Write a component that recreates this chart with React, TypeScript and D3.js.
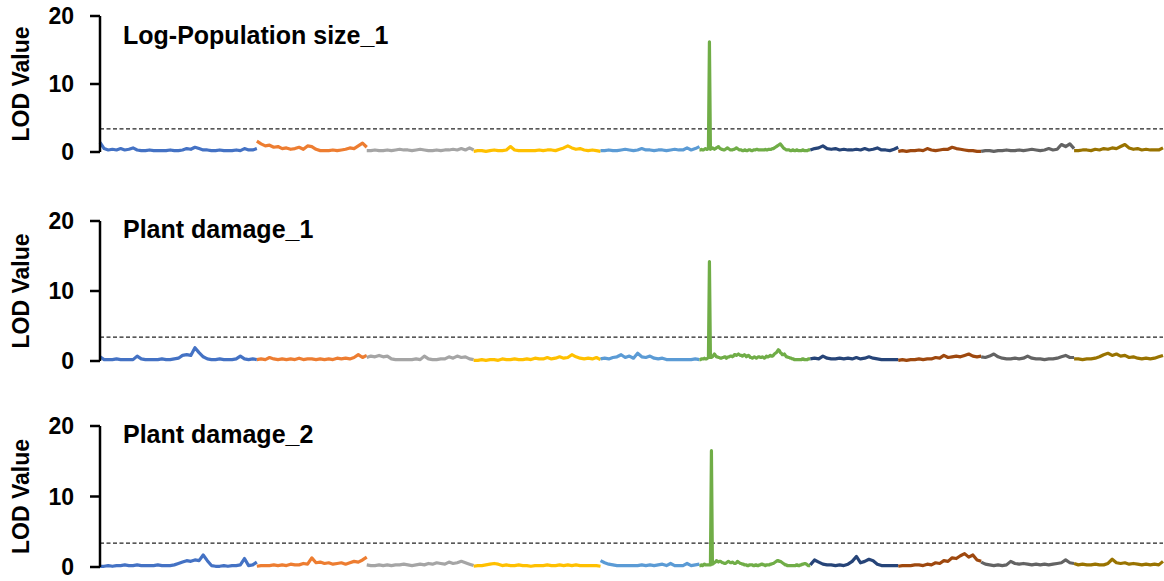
import * as d3 from "d3";

// chromosome layout (map units) and colours, Excel-style palette
const chromosomes = ["1", "2", "3", "4", "5", "6", "7", "8", "9", "10"];
const chrLengths = [157, 110, 107, 127, 99, 111, 88, 83, 93, 89];
const chrColors = [
  "#4472C4",
  "#ED7D31",
  "#A5A5A5",
  "#FFC000",
  "#5B9BD5",
  "#70AD47",
  "#264478",
  "#9E480E",
  "#636363",
  "#997300",
];

const traits = ["Log-Population size_1", "Plant damage_1", "Plant damage_2"];
const lodThreshold = 3.4;
const yTicks = [0, 10, 20];

// LOD profiles, one list per chromosome, evenly spaced along it
// (chromosome 6 is scanned at a finer step around the QTL)
const logPopSize1: number[][] = [
  [1.4, 0.5, 0.3, 0.4, 0.3, 0.5, 0.3, 0.4, 0.6, 0.3, 0.2, 0.2, 0.3, 0.2, 0.2, 0.2, 0.2, 0.3, 0.2, 0.2, 0.3, 0.5, 0.4, 0.7, 0.5, 0.3, 0.3, 0.2, 0.2, 0.3, 0.2, 0.2, 0.2, 0.3, 0.2, 0.5, 0.3, 0.3, 0.5],
  [1.6, 1.2, 0.9, 1.0, 0.7, 0.8, 0.5, 0.6, 0.4, 0.5, 0.7, 0.4, 0.9, 0.8, 0.4, 0.2, 0.2, 0.2, 0.3, 0.2, 0.3, 0.4, 0.6, 0.5, 0.9, 1.3, 0.7],
  [0.2, 0.2, 0.3, 0.2, 0.2, 0.3, 0.2, 0.3, 0.4, 0.3, 0.3, 0.2, 0.3, 0.4, 0.3, 0.2, 0.2, 0.3, 0.2, 0.3, 0.3, 0.4, 0.3, 0.5, 0.3, 0.6, 0.3],
  [0.1, 0.2, 0.2, 0.1, 0.2, 0.3, 0.2, 0.2, 0.3, 0.8, 0.3, 0.2, 0.2, 0.2, 0.2, 0.2, 0.3, 0.2, 0.3, 0.3, 0.2, 0.4, 0.6, 0.9, 0.6, 0.4, 0.5, 0.3, 0.2, 0.3, 0.2, 0.1],
  [0.2, 0.2, 0.3, 0.2, 0.2, 0.3, 0.4, 0.3, 0.2, 0.3, 0.5, 0.3, 0.3, 0.2, 0.3, 0.3, 0.2, 0.3, 0.4, 0.3, 0.3, 0.6, 0.3, 0.5, 0.8],
  [
    0.3, 0.3, 0.4, 0.3, 0.3, 0.4, 0.5, 0.4, 0.4, 0.5,
    16.2,
    0.4, 0.5, 0.6, 0.5, 0.4, 0.5, 0.6, 0.7, 0.8, 0.6,
    0.5, 0.4, 0.4, 0.3, 0.3, 0.4, 0.5, 0.6, 0.5, 0.4,
    0.3, 0.3, 0.3, 0.4, 0.4, 0.5, 0.6, 0.5, 0.4, 0.3,
    0.3, 0.3, 0.2, 0.2, 0.3, 0.3, 0.2, 0.2, 0.3, 0.3,
    0.3, 0.2, 0.2, 0.3, 0.3, 0.3, 0.4, 0.4, 0.3, 0.3,
    0.3, 0.3, 0.3, 0.3, 0.3, 0.4, 0.3, 0.3, 0.4, 0.4,
    0.4, 0.4, 0.5, 0.5, 0.6, 0.7, 0.8, 0.9, 1.0, 1.1,
    1.2, 1.0, 0.8, 0.6, 0.5, 0.4, 0.3, 0.3, 0.3, 0.3,
    0.2, 0.2, 0.3, 0.3, 0.2, 0.2, 0.3, 0.3, 0.2, 0.2,
    0.2, 0.2, 0.3, 0.3, 0.2, 0.2, 0.2, 0.2, 0.3, 0.3,
    0.3,
  ],
  [0.3, 0.5, 0.6, 0.9, 0.5, 0.4, 0.5, 0.3, 0.4, 0.3, 0.3, 0.4, 0.3, 0.5, 0.3, 0.4, 0.6, 0.3, 0.3, 0.2, 0.4, 0.7],
  [0.1, 0.2, 0.1, 0.2, 0.2, 0.3, 0.2, 0.5, 0.3, 0.2, 0.3, 0.4, 0.4, 0.7, 0.5, 0.4, 0.3, 0.2, 0.2, 0.1, 0.1],
  [0.1, 0.2, 0.2, 0.1, 0.2, 0.2, 0.3, 0.2, 0.2, 0.3, 0.2, 0.3, 0.4, 0.3, 0.2, 0.3, 0.5, 0.3, 0.4, 1.1, 0.8, 1.2, 0.5],
  [0.2, 0.2, 0.3, 0.3, 0.2, 0.4, 0.3, 0.5, 0.4, 0.6, 0.5, 0.8, 1.1, 0.6, 0.4, 0.5, 0.3, 0.4, 0.3, 0.3, 0.3, 0.6],
];

const plantDamage1: number[][] = [
  [0.6, 0.2, 0.2, 0.2, 0.3, 0.2, 0.2, 0.2, 0.2, 0.7, 0.3, 0.2, 0.2, 0.2, 0.2, 0.3, 0.2, 0.2, 0.3, 0.4, 0.8, 0.9, 0.8, 1.9, 1.2, 0.6, 0.3, 0.2, 0.2, 0.3, 0.2, 0.2, 0.2, 0.3, 0.7, 0.3, 0.2, 0.3, 0.2],
  [0.2, 0.3, 0.2, 0.5, 0.3, 0.2, 0.3, 0.2, 0.3, 0.2, 0.4, 0.2, 0.3, 0.3, 0.2, 0.3, 0.2, 0.3, 0.2, 0.4, 0.3, 0.4, 0.3, 0.5, 0.9, 0.5, 0.8],
  [0.5, 0.7, 0.6, 0.8, 0.6, 0.7, 0.3, 0.2, 0.2, 0.2, 0.2, 0.2, 0.3, 0.2, 0.7, 0.3, 0.2, 0.2, 0.3, 0.3, 0.6, 0.4, 0.7, 0.5, 0.6, 0.3, 0.2],
  [0.1, 0.1, 0.2, 0.1, 0.2, 0.2, 0.1, 0.3, 0.2, 0.2, 0.3, 0.2, 0.2, 0.3, 0.2, 0.4, 0.3, 0.3, 0.5, 0.3, 0.4, 0.6, 0.4, 0.5, 0.9, 0.6, 0.4, 0.3, 0.4, 0.3, 0.5, 0.2],
  [0.3, 0.4, 0.3, 0.5, 0.6, 0.9, 0.5, 0.7, 0.4, 1.1, 0.6, 0.5, 0.7, 0.4, 0.3, 0.4, 0.2, 0.2, 0.2, 0.2, 0.2, 0.2, 0.2, 0.3, 0.2],
  [
    0.2, 0.2, 0.3, 0.3, 0.3, 0.4, 0.3, 0.3, 0.4, 0.5,
    14.2,
    0.5, 0.5, 0.6, 0.8, 1.0, 0.8, 0.6, 0.6, 0.5, 0.5,
    0.4, 0.4, 0.5, 0.5, 0.6, 0.6, 0.4, 0.5, 0.6, 0.6,
    0.7, 0.7, 0.6, 0.7, 0.9, 0.9, 0.8, 0.9, 1.0, 0.9,
    0.8, 0.8, 0.7, 0.8, 0.9, 0.8, 0.6, 0.7, 0.8, 0.7,
    0.5, 0.5, 0.4, 0.5, 0.6, 0.5, 0.4, 0.5, 0.6, 0.6,
    0.5, 0.5, 0.6, 0.5, 0.4, 0.5, 0.7, 0.6, 0.6, 0.7,
    0.8, 0.7, 0.7, 0.8, 1.0, 1.1, 1.2, 1.4, 1.6, 1.5,
    1.2, 1.1, 0.9, 0.9, 1.0, 0.8, 0.6, 0.6, 0.5, 0.5,
    0.4, 0.4, 0.3, 0.3, 0.2, 0.2, 0.2, 0.2, 0.2, 0.2,
    0.2, 0.2, 0.3, 0.3, 0.2, 0.2, 0.2, 0.2, 0.3, 0.3,
    0.3,
  ],
  [0.3, 0.4, 0.3, 0.7, 0.4, 0.3, 0.3, 0.4, 0.3, 0.4, 0.3, 0.5, 0.3, 0.4, 0.6, 0.4, 0.3, 0.2, 0.2, 0.2, 0.2, 0.2],
  [0.1, 0.2, 0.1, 0.2, 0.2, 0.3, 0.2, 0.3, 0.3, 0.5, 0.4, 0.8, 0.5, 0.6, 0.7, 0.6, 0.8, 1.0, 0.7, 0.6, 0.7],
  [0.6, 0.5, 0.7, 1.0, 0.6, 0.4, 0.3, 0.3, 0.4, 0.3, 0.4, 0.7, 0.4, 0.3, 0.3, 0.2, 0.3, 0.3, 0.4, 0.6, 0.8, 0.5, 0.5],
  [0.3, 0.3, 0.2, 0.3, 0.3, 0.4, 0.6, 0.9, 1.1, 0.8, 1.0, 0.7, 0.8, 0.5, 0.6, 0.4, 0.3, 0.4, 0.3, 0.4, 0.6, 0.8],
];

const plantDamage2: number[][] = [
  [0.1, 0.1, 0.2, 0.1, 0.2, 0.2, 0.3, 0.2, 0.2, 0.3, 0.2, 0.2, 0.2, 0.2, 0.3, 0.2, 0.2, 0.2, 0.3, 0.5, 0.7, 0.9, 0.8, 1.0, 0.9, 1.7, 0.9, 0.2, 0.1, 0.1, 0.2, 0.1, 0.2, 0.2, 0.3, 1.2, 0.2, 0.3, 0.7],
  [0.1, 0.2, 0.2, 0.2, 0.3, 0.2, 0.3, 0.2, 0.4, 0.3, 0.3, 0.5, 0.4, 1.3, 0.6, 0.7, 0.5, 0.6, 0.4, 0.5, 0.6, 0.4, 0.6, 0.8, 0.7, 1.0, 1.4],
  [0.3, 0.2, 0.2, 0.3, 0.2, 0.3, 0.2, 0.3, 0.3, 0.4, 0.3, 0.2, 0.3, 0.4, 0.3, 0.5, 0.4, 0.6, 0.5, 0.4, 0.7, 0.5, 0.6, 0.8, 0.6, 0.4, 0.2],
  [0.1, 0.2, 0.2, 0.3, 0.4, 0.5, 0.4, 0.2, 0.3, 0.2, 0.2, 0.3, 0.2, 0.2, 0.1, 0.2, 0.2, 0.2, 0.3, 0.2, 0.2, 0.3, 0.2, 0.3, 0.2, 0.3, 0.2, 0.2, 0.2, 0.2, 0.2, 0.1],
  [0.9, 0.6, 0.4, 0.3, 0.2, 0.2, 0.2, 0.2, 0.2, 0.2, 0.3, 0.2, 0.3, 0.2, 0.3, 0.4, 0.2, 0.5, 0.2, 0.2, 0.2, 0.5, 0.2, 0.3, 0.4],
  [
    0.2, 0.2, 0.3, 0.2, 0.3, 0.4, 0.3, 0.3, 0.3, 0.3, 0.3, 0.3,
    16.5,
    0.4, 0.5, 0.6, 0.7, 0.9, 0.8, 0.7, 0.8,
    0.8, 0.7, 0.6, 0.6, 0.5, 0.5, 0.6, 0.7, 0.8, 0.7,
    0.6, 0.6, 0.7, 0.6, 0.5, 0.5, 0.6, 0.8, 0.7, 0.6,
    0.5, 0.5, 0.4, 0.4, 0.3, 0.3, 0.3, 0.2, 0.2, 0.3,
    0.3, 0.3, 0.3, 0.2, 0.2, 0.3, 0.3, 0.2, 0.2, 0.3,
    0.3, 0.4, 0.4, 0.3, 0.3, 0.2, 0.3, 0.3, 0.3, 0.3,
    0.4, 0.4, 0.5, 0.5, 0.6, 0.7, 0.8, 0.9, 0.9, 0.8,
    0.8, 0.7, 0.6, 0.5, 0.4, 0.3, 0.3, 0.2, 0.2, 0.2,
    0.2, 0.2, 0.2, 0.2, 0.2, 0.2, 0.3, 0.3, 0.2, 0.2,
    0.3, 0.3, 0.4, 0.4, 0.5, 0.5, 0.4, 0.3, 0.2, 0.2,
    0.2,
  ],
  [0.3, 1.0, 0.7, 0.4, 0.3, 0.3, 0.2, 0.3, 0.2, 0.4, 0.8, 1.5, 0.6, 0.8, 1.1, 0.9, 0.4, 0.2, 0.2, 0.2, 0.2, 0.2],
  [0.1, 0.2, 0.2, 0.2, 0.3, 0.3, 0.2, 0.4, 0.3, 0.6, 0.5, 0.9, 0.8, 1.3, 1.2, 1.6, 1.9, 1.4, 1.7, 1.0, 0.8],
  [0.7, 0.4, 0.3, 0.2, 0.3, 0.2, 0.3, 0.8, 0.5, 0.4, 0.5, 0.4, 0.3, 0.4, 0.3, 0.4, 0.3, 0.4, 0.5, 0.6, 1.0, 0.6, 0.5],
  [0.5, 0.3, 0.4, 0.3, 0.3, 0.4, 0.3, 0.3, 0.5, 1.1, 0.6, 0.5, 0.6, 0.4, 0.5, 0.4, 0.3, 0.4, 0.3, 0.4, 0.3, 0.8],
];

const traitData = [logPopSize1, plantDamage1, plantDamage2];

const width = 1164;
const height = 581;
const plotLeft = 100;
const plotRight = 1163;
const panelTops = [16, 221, 426];
const panelBottoms = [152, 361, 567];
const titleBaselines = [44, 238, 443];
const font = "'Liberation Sans', Arial, sans-serif";

type Point = { pos: number; lod: number };

const chrStarts = chrLengths.map((_, i) => d3.sum(chrLengths.slice(0, i)));
const genomeLength = d3.sum(chrLengths);

function toPoints(values: number[], chrIndex: number): Point[] {
  const start = chrStarts[chrIndex];
  const len = chrLengths[chrIndex];
  return values.map((lod, i) => ({
    pos: start + (i / (values.length - 1)) * len,
    lod,
  }));
}

function Panel({ index }: { index: number }) {
  const x = d3.scaleLinear().domain([0, genomeLength]).range([plotLeft, plotRight]);
  const y = d3
    .scaleLinear()
    .domain([0, 20])
    .range([panelBottoms[index], panelTops[index]]);
  const line = d3
    .line<Point>()
    .x((d) => x(d.pos))
    .y((d) => y(d.lod));
  const midY = (panelTops[index] + panelBottoms[index]) / 2;

  return (
    <g>
      <text
        transform={`translate(29,${midY}) rotate(-90)`}
        textAnchor="middle"
        fontFamily={font}
        fontWeight="bold"
        fontSize={23}
        fill="#000"
      >
        LOD Value
      </text>
      <text
        x={123}
        y={titleBaselines[index]}
        fontFamily={font}
        fontWeight="bold"
        fontSize={25}
        fill="#000"
      >
        {traits[index]}
      </text>

      <line
        x1={plotLeft}
        x2={plotRight}
        y1={y(lodThreshold)}
        y2={y(lodThreshold)}
        stroke="#222"
        strokeWidth={1.2}
        strokeDasharray="4,2.5"
      />

      {traitData[index].map((values, ci) => (
        <path
          key={chromosomes[ci]}
          d={line(toPoints(values, ci)) ?? ""}
          fill="none"
          stroke={chrColors[ci]}
          strokeWidth={3.2}
          strokeLinejoin="round"
          strokeLinecap="butt"
        />
      ))}

      <line
        x1={plotLeft}
        x2={plotLeft}
        y1={y(20)}
        y2={y(0)}
        stroke="#000"
        strokeWidth={2.5}
      />
      {yTicks.map((t) => (
        <g key={t}>
          <line x1={plotLeft - 10} x2={plotLeft} y1={y(t)} y2={y(t)} stroke="#000" strokeWidth={2.5} />
          <text
            x={plotLeft - 26}
            y={y(t)}
            dy="0.36em"
            textAnchor="end"
            fontFamily={font}
            fontWeight="bold"
            fontSize={23}
            fill="#000"
          >
            {t}
          </text>
        </g>
      ))}
    </g>
  );
}

export default function App() {
  return (
    <svg
      width={width}
      height={height}
      style={{ position: "absolute", left: 0, top: 0, background: "#fff" }}
    >
      {traits.map((t, i) => (
        <Panel key={t} index={i} />
      ))}
    </svg>
  );
}
